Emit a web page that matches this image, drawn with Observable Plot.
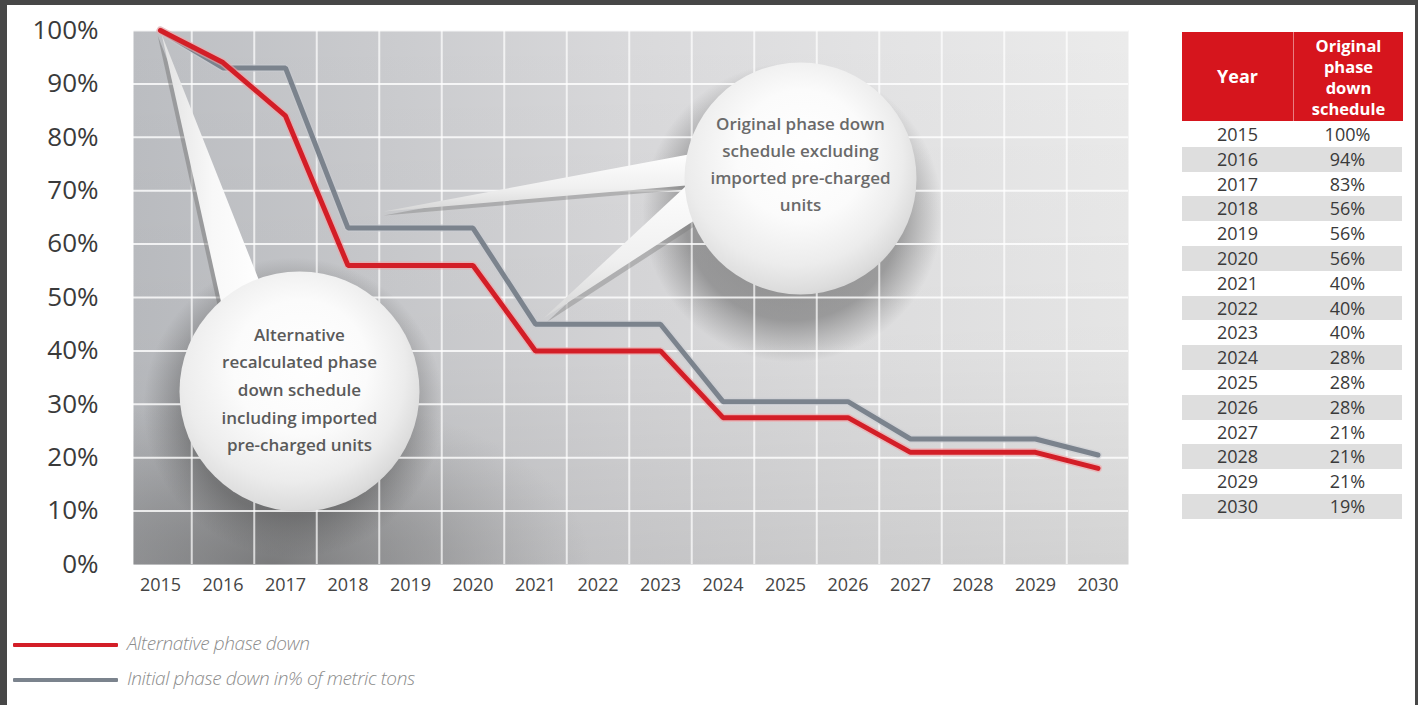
<!DOCTYPE html>
<html>
<head>
<meta charset="utf-8">
<script src="https://cdn.jsdelivr.net/npm/d3@7"></script>
<script src="https://cdn.jsdelivr.net/npm/@observablehq/plot@0.6"></script>
<style>
  html, body { margin:0; padding:0; width:1418px; height:705px; overflow:hidden; background:#474747; font-family:"Open Sans", sans-serif; }
  #page { position:absolute; left:7px; top:5px; width:1408px; height:700px; background:#ffffff; }
  #chart { position:absolute; left:0; top:0; }
  #legend { position:absolute; left:0; top:0; }
  .lg-line { position:absolute; left:13px; width:105px; height:4px; border-radius:1px; }
  .lg-text { position:absolute; left:127px; font-style:italic; font-weight:300; font-size:19px; color:#8c8c8c; letter-spacing:-0.4px; white-space:nowrap; line-height:24px; }
  #table { position:absolute; left:1182px; top:32px; width:220px; }
  .th { position:absolute; top:0; height:89px; background:#d6151d; color:#fff; font-weight:700; display:flex; align-items:center; justify-content:center; text-align:center; }
  .row { position:absolute; left:0; width:220px; height:24.8px; }
  .cell { position:absolute; top:0; height:24.8px; line-height:24.8px; text-align:center; font-size:18px; color:#3a3a3a; }
</style>
</head>
<body>
<div id="page"></div>
<div id="chart"></div>
<div id="legend"></div>
<div id="table"></div>
<script>
// ---------- data ----------
const years = [2015, 2016, 2017, 2018, 2019, 2020, 2021, 2022, 2023, 2024, 2025, 2026, 2027, 2028, 2029, 2030];
const alternativePhaseDown = [100, 94, 84, 56, 56, 56, 40, 40, 40, 27.5, 27.5, 27.5, 21, 21, 21, 18];
const initialPhaseDown = [100, 93, 93, 63, 63, 63, 45, 45, 45, 30.5, 30.5, 30.5, 23.5, 23.5, 23.5, 20.5];
const yTicks = [0, 10, 20, 30, 40, 50, 60, 70, 80, 90, 100];
const gridYears = [2015.5, 2016.5, 2017.5, 2018.5, 2019.5, 2020.5, 2021.5, 2022.5, 2023.5, 2024.5, 2025.5, 2026.5, 2027.5, 2028.5, 2029.5];
const legendLabels = ["Alternative phase down", "Initial phase down in% of metric tons"];
const tableHeaders = ["Year", "Original phase down schedule"];
const tableYears = ["2015","2016","2017","2018","2019","2020","2021","2022","2023","2024","2025","2026","2027","2028","2029","2030"];
const tableValues = ["100%","94%","83%","56%","56%","56%","40%","40%","40%","28%","28%","28%","21%","21%","21%","19%"];
const calloutTexts = [
  "Alternative\nrecalculated phase\ndown schedule\nincluding imported\npre-charged units",
  "Original phase down\nschedule excluding\nimported pre-charged\nunits"
];
// callout anchors in data space (year, percent)
const callout1 = {x: 2017.224, y: 32.4};
const callout2 = {x: 2025.24, y: 72.3};
const tail1 = [{x: 2015.02, y: 99.2}, {x: 2016.0, y: 47.5}, {x: 2016.64, y: 51.3}];
const tail2a = [{x: 2018.57, y: 66.1}, {x: 2023.64, y: 77.2}, {x: 2023.64, y: 71.2}];
const tail2b = [{x: 2021.13, y: 46.1}, {x: 2023.64, y: 73.4}, {x: 2024.04, y: 68.2}];

const altData = years.map((year, i) => ({year, value: alternativePhaseDown[i]}));
const iniData = years.map((year, i) => ({year, value: initialPhaseDown[i]}));

const FONT = "'Open Sans', sans-serif";

const plot = Plot.plot({
  width: 1140,
  height: 600,
  marginLeft: 133,
  marginRight: 12,
  marginTop: 30,
  marginBottom: 36,
  style: {background: "transparent", fontFamily: FONT, overflow: "visible"},
  x: {domain: [2014.568, 2030.488], label: null},
  y: {domain: [0, 100], label: null},
  marks: [
    Plot.frame({fill: "url(#bgGrad)", stroke: "none"}),
    Plot.frame({fill: "url(#bgVert)", stroke: "none"}),
    Plot.frame({fill: "url(#bgDark)", stroke: "none"}),
    Plot.dot([callout1], {x: "x", y: "y", r: 150, dx: -6, dy: 16, fill: "url(#shadowGrad)", stroke: "none"}),
    Plot.dot([callout2], {x: "x", y: "y", r: 150, dx: -8, dy: 34, fill: "url(#shadowGrad)", stroke: "none"}),
    Plot.ruleY(yTicks.filter(d => d > 0), {stroke: "#ffffff", strokeOpacity: 0.8, strokeWidth: 2}),
    Plot.ruleX(gridYears, {stroke: "#ffffff", strokeOpacity: 0.7, strokeWidth: 2}),
    // tails (shadow, then white)
    Plot.line(tail1, {x: "x", y: "y", fill: "#6e6e6e", fillOpacity: 0.45, stroke: "none", dx: -4, dy: 1}),
    Plot.line(tail1, {x: "x", y: "y", fill: "url(#tailGrad)", stroke: "none"}),
    Plot.line(tail2a, {x: "x", y: "y", fill: "#7a7a7a", fillOpacity: 0.4, stroke: "none", dy: 4}),
    Plot.line(tail2a, {x: "x", y: "y", fill: "url(#tailGrad2)", stroke: "none"}),
    Plot.line(tail2b, {x: "x", y: "y", fill: "#7a7a7a", fillOpacity: 0.4, stroke: "none", dx: 3, dy: 4}),
    Plot.line(tail2b, {x: "x", y: "y", fill: "url(#tailGrad2)", stroke: "none"}),
    // circles
    Plot.dot([callout1], {x: "x", y: "y", r: 120, fill: "url(#circleGrad)", stroke: "none"}),
    Plot.dot([callout2], {x: "x", y: "y", r: 116, fill: "url(#circleGrad)", stroke: "none"}),
    Plot.text([{x: callout1.x, y: 33.2, t: calloutTexts[0]}], {x: "x", y: "y", text: "t", fontSize: 17, fontWeight: 600, lineHeight: 1.62, fill: "#5a5a5a", fontFamily: FONT}),
    Plot.text([{x: callout2.x, y: 75.4, t: calloutTexts[1]}], {x: "x", y: "y", text: "t", fontSize: 17, fontWeight: 600, lineHeight: 1.58, fill: "#6a6a6a", fontFamily: FONT}),
    // lines
    Plot.line(iniData, {x: "year", y: "value", stroke: "#c9ccd2", strokeWidth: 8, strokeOpacity: 0.5, strokeLinejoin: "miter"}),
    Plot.line(iniData, {x: "year", y: "value", stroke: "#7b838d", strokeWidth: 5, strokeLinejoin: "miter"}),
    Plot.line(altData, {x: "year", y: "value", stroke: "#f2a3a6", strokeWidth: 8, strokeOpacity: 0.6, strokeLinejoin: "miter"}),
    Plot.line(altData, {x: "year", y: "value", stroke: "#d31e27", strokeWidth: 5, strokeLinejoin: "miter"}),
    // axes
    Plot.axisY(yTicks, {tickSize: 0, tickPadding: 35, fontSize: 26, fill: "#3a3a3a", tickFormat: d => d + "%", label: null, fontFamily: FONT}),
    Plot.axisX(years, {tickSize: 0, tickPadding: 14, fontSize: 18, fill: "#444", tickFormat: d => String(d), label: null, fontFamily: FONT})
  ]
});

// gradients
const defs = d3.select(plot).insert("defs", ":first-child");
function lin(id, x2, y2, stops) {
  const g = defs.append("linearGradient").attr("id", id).attr("x1", 0).attr("y1", 0).attr("x2", x2).attr("y2", y2);
  stops.forEach(([o, c, a]) => g.append("stop").attr("offset", o).attr("stop-color", c).attr("stop-opacity", a == null ? 1 : a));
}
function rad(id, cx, cy, r, stops, fx, fy) {
  const g = defs.append("radialGradient").attr("id", id).attr("cx", cx).attr("cy", cy).attr("r", r);
  if (fx != null) g.attr("fx", fx).attr("fy", fy);
  stops.forEach(([o, c, a]) => g.append("stop").attr("offset", o).attr("stop-color", c).attr("stop-opacity", a == null ? 1 : a));
}
lin("bgGrad", 1, 0, [[0, "#bcbec2"], [0.25, "#cacbce"], [0.5, "#d9d9db"], [0.75, "#e3e3e4"], [1, "#ebebeb"]]);
lin("bgVert", 0, 1, [[0, "#000", 0], [0.6, "#000", 0.03], [1, "#000", 0.1]]);
rad("bgDark", 0.14, 1.0, 0.32, [[0, "#555", 0.6], [0.5, "#666", 0.35], [1, "#777", 0]]);
rad("shadowGrad", 0.5, 0.5, 0.5, [[0, "#444", 0.55], [0.72, "#4a4a4a", 0.45], [1, "#555", 0]]);
rad("circleGrad", 0.45, 0.42, 0.62, [[0, "#ffffff"], [0.45, "#fbfbfb"], [0.75, "#ececec"], [0.92, "#dcdcdc"], [1, "#d0d0d0"]], 0.55, 0.38);
lin("tailGrad", 1, 0, [[0, "#e2e2e2"], [0.5, "#f8f8f8"], [1, "#ffffff"]]);
lin("tailGrad2", 0, 1, [[0, "#ffffff"], [0.6, "#f0f0f0"], [1, "#d6d6d6"]]);

document.getElementById("chart").appendChild(plot);

// legend
const legend = document.getElementById("legend");
const legendColors = ["#d31e27", "#7b838d"];
const legendTops = [643, 678];
legendLabels.forEach((label, i) => {
  const l = document.createElement("div");
  l.className = "lg-line";
  l.style.top = legendTops[i] + "px";
  l.style.background = legendColors[i];
  legend.appendChild(l);
  const t = document.createElement("div");
  t.className = "lg-text";
  t.style.top = (legendTops[i] - 12) + "px";
  t.textContent = label;
  legend.appendChild(t);
});

// table
const table = document.getElementById("table");
const colLeft = [0, 111];
const colWidth = [111, 109];
tableHeaders.forEach((h, i) => {
  const c = document.createElement("div");
  c.className = "th";
  c.style.left = colLeft[i] + "px";
  c.style.width = colWidth[i] + "px";
  c.style.fontSize = i === 0 ? "18px" : "16.5px";
  c.style.lineHeight = "21px";
  if (i === 1) c.style.borderLeft = "1px solid rgba(255,255,255,0.45)";
  c.innerHTML = i === 0 ? h : h.split(" ").join("<br>");
  table.appendChild(c);
});
tableYears.forEach((y, i) => {
  const r = document.createElement("div");
  r.className = "row";
  r.style.top = (90 + i * 24.8) + "px";
  if (i % 2 === 1) r.style.background = "#dedede";
  [y, tableValues[i]].forEach((v, j) => {
    const c = document.createElement("div");
    c.className = "cell";
    c.style.left = colLeft[j] + "px";
    c.style.width = colWidth[j] + "px";
    c.textContent = v;
    r.appendChild(c);
  });
  table.appendChild(r);
});
</script>
</body>
</html>
